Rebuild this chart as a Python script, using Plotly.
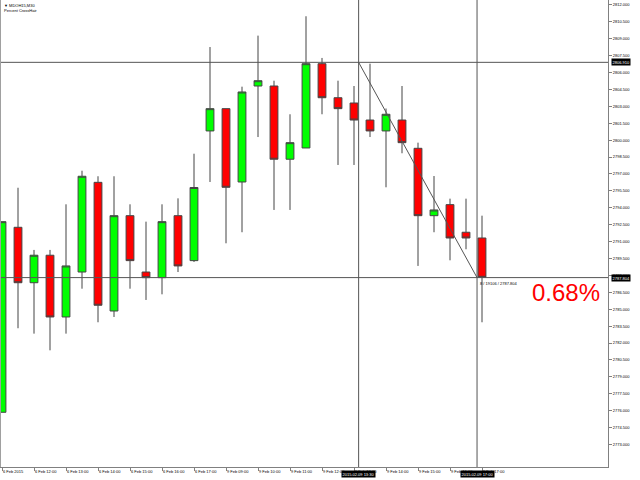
import plotly.graph_objects as go

# ---- data -------------------------------------------------------------
times = ["6 Feb 11:00", "6 Feb 11:30", "6 Feb 12:00", "6 Feb 12:30", "6 Feb 13:00", "6 Feb 13:30",
         "6 Feb 14:00", "6 Feb 14:30", "6 Feb 15:00", "6 Feb 15:30", "6 Feb 16:00", "6 Feb 16:30",
         "6 Feb 17:00", "6 Feb 17:30",
         "9 Feb 09:00", "9 Feb 09:30", "9 Feb 10:00", "9 Feb 10:30", "9 Feb 11:00", "9 Feb 11:30",
         "9 Feb 12:00", "9 Feb 12:30", "9 Feb 13:00", "9 Feb 13:30", "9 Feb 14:00", "9 Feb 14:30",
         "9 Feb 15:00", "9 Feb 15:30", "9 Feb 16:00", "9 Feb 16:30", "9 Feb 17:00"]

open_ = [2775.85, 2792.27, 2787.35, 2789.79, 2784.31, 2788.30, 2796.26, 2784.84, 2793.30, 2788.30,
         2787.80, 2793.30, 2789.31, 2800.82, 2802.80, 2796.29, 2804.81, 2804.81, 2798.31, 2799.31,
         2806.79, 2803.77, 2803.30, 2801.79, 2800.82, 2801.79, 2799.28, 2793.30, 2794.28, 2791.83,
         2791.32]
high = [2792.77, 2795.78, 2790.26, 2790.26, 2794.31, 2797.29, 2796.80, 2796.80, 2794.31, 2792.77,
        2794.31, 2794.84, 2798.80, 2808.27, 2802.80, 2804.75, 2809.28, 2805.28, 2802.30, 2811.00,
        2807.30, 2805.28, 2804.81, 2806.79, 2802.81, 2804.81, 2799.78, 2796.82, 2794.81, 2794.81,
        2793.30]
low = [2775.85, 2783.31, 2782.83, 2781.35, 2782.83, 2786.82, 2783.84, 2784.31, 2786.82, 2785.82,
       2786.32, 2788.30, 2789.19, 2796.29, 2790.85, 2791.83, 2800.28, 2793.81, 2793.81, 2799.31,
       2802.30, 2797.80, 2797.80, 2800.28, 2795.82, 2798.84, 2788.84, 2791.83, 2789.34, 2790.32,
       2783.84]
close = [2792.77, 2787.35, 2789.79, 2784.31, 2788.84, 2796.80, 2785.35, 2793.30, 2789.31, 2787.80,
         2792.77, 2788.84, 2795.80, 2802.80, 2795.82, 2804.28, 2805.28, 2798.31, 2799.78, 2806.79,
         2803.77, 2802.80, 2801.79, 2800.82, 2802.30, 2799.78, 2793.30, 2793.81, 2791.32, 2791.32,
         2787.83]

# x tick labels (every second bar)
tick_idx = [0, 2, 4, 6, 8, 10, 12, 14, 16, 18, 20, 22, 24, 26, 28, 30]
tick_text = ["6 Feb 2015", "6 Feb 12:00", "6 Feb 13:00", "6 Feb 14:00", "6 Feb 15:00", "6 Feb 16:00",
             "6 Feb 17:00", "9 Feb 09:00", "9 Feb 10:00", "9 Feb 11:00", "9 Feb 12:00", "9 Feb 13:00",
             "9 Feb 14:00", "9 Feb 15:00", "9 Feb 16:00", "9 Feb 17:00"]

# y tick labels
price_ticks = [2773.0 + 1.5 * k for k in range(27)]

# crosshair
cross_x1, cross_x2 = 22.29, 29.69
cross_p1, cross_p2 = 2806.910, 2787.804
cross_t1, cross_t2 = "2015.02.09 13:30", "2015.02.09 17:00"
cross_bars, cross_points = 8, 19106

x_range = [-0.125, 37.875]
y_range = [2770.994, 2812.443]

# ---- figure -------------------------------------------------------------
x = list(range(len(open_)))
fig = go.Figure(go.Candlestick(
    x=x, open=open_, high=high, low=low, close=close,
    increasing=dict(fillcolor="#00FF00", line=dict(color="#454545", width=1)),
    decreasing=dict(fillcolor="#FF0000", line=dict(color="#454545", width=1)),
    hoverinfo="skip",
))

small = dict(family="Liberation Sans", size=4, color="black")

fig.update_layout(
    width=640, height=480, autosize=False,
    margin=dict(l=0, r=32, t=0, b=13, autoexpand=False),
    paper_bgcolor="white", plot_bgcolor="white",
    showlegend=False,
    xaxis=dict(range=x_range, rangeslider=dict(visible=False), showgrid=False, zeroline=False,
               showline=True, linecolor="#808080", linewidth=1,
               ticks="outside", ticklen=3, tickcolor="#808080",
               tickmode="array", tickvals=tick_idx, ticktext=tick_text,
               ticklabelposition="outside right", tickangle=0, tickfont=small),
    yaxis=dict(range=y_range, side="right", showgrid=False, zeroline=False,
               showline=True, linecolor="#808080", linewidth=1,
               ticks="outside", ticklen=3, tickcolor="#808080",
               tickmode="array", tickvals=price_ticks,
               ticktext=["%.3f" % v for v in price_ticks], tickfont=small),
)

line_style = dict(color="#555555", width=1)
fig.add_shape(type="line", xref="x", yref="paper", x0=cross_x1, x1=cross_x1, y0=0, y1=1, line=line_style)
fig.add_shape(type="line", xref="x", yref="paper", x0=cross_x2, x1=cross_x2, y0=0, y1=1, line=line_style)
fig.add_shape(type="line", xref="paper", yref="y", x0=0, x1=1, y0=cross_p1, y1=cross_p1, line=line_style)
fig.add_shape(type="line", xref="paper", yref="y", x0=0, x1=1, y0=cross_p2, y1=cross_p2, line=line_style)
fig.add_shape(type="line", xref="x", yref="y", x0=cross_x1, x1=cross_x2, y0=cross_p1, y1=cross_p2, line=line_style)
# left border
fig.add_shape(type="line", xref="paper", yref="paper", x0=0, x1=0, y0=0, y1=1,
              line=dict(color="#a0a0a0", width=2))

# top-left labels
fig.add_annotation(xref="paper", yref="paper", x=0.004, y=1, yshift=-1, xanchor="left", yanchor="top",
                   text="▼ MDOH15,M30", showarrow=False, font=small)
fig.add_annotation(xref="paper", yref="paper", x=0.004, y=1, yshift=-6, xanchor="left", yanchor="top",
                   text="Percent CrossHair", showarrow=False, font=small)

# crosshair labels on axes
white_small = dict(family="Liberation Sans", size=4, color="white")
for p in (cross_p1, cross_p2):
    fig.add_annotation(xref="paper", yref="y", x=1, xshift=3, y=p, xanchor="left", yanchor="middle",
                       text="%.3f" % p, showarrow=False, font=white_small, bgcolor="black", borderpad=0.5)
for xv, t in ((cross_x1, cross_t1), (cross_x2, cross_t2)):
    fig.add_annotation(xref="x", yref="paper", x=xv, y=0, yshift=-3, xanchor="center", yanchor="top",
                       text=t, showarrow=False, font=white_small, bgcolor="black", borderpad=0.5)

# crosshair info text
fig.add_annotation(xref="x", yref="y", x=cross_x2, y=cross_p2, xshift=1, yshift=-1,
                   xanchor="left", yanchor="top",
                   text="%d / %d / %.3f" % (cross_bars, cross_points, cross_p2),
                   showarrow=False, font=small)

pct = (cross_p1 - cross_p2) / cross_p1 * 100
fig.add_annotation(xref="paper", yref="paper", x=0.872, y=0.374, xanchor="left", yanchor="middle",
                   text="%.2f%%" % pct, showarrow=False,
                   font=dict(family="Liberation Sans", size=24, color="#FF0000"))

fig.write_html("out.html", config={"displayModeBar": False, "staticPlot": True},
               post_script="document.body.style.margin='0';document.body.style.overflow='hidden';")
